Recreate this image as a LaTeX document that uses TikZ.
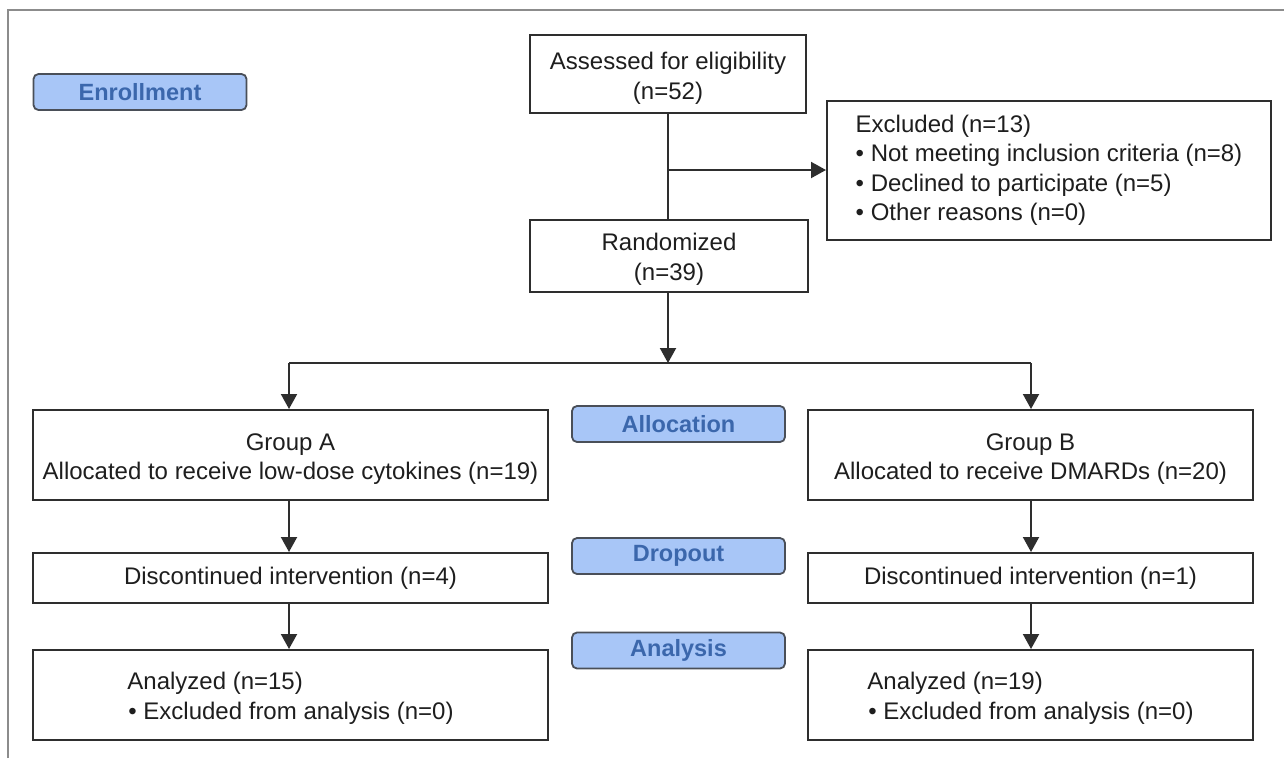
\documentclass[tikz,border=0pt]{standalone}
\usepackage{fontspec}
\setmainfont{Liberation Sans}
\usetikzlibrary{arrows.meta}
\definecolor{inkgray}{HTML}{2E2E2E}
\definecolor{framegray}{HTML}{8C8C8C}
\definecolor{tagfill}{HTML}{A8C6F7}
\definecolor{tagtext}{HTML}{3B67AC}
\definecolor{tagedge}{HTML}{4A4F58}
\definecolor{txt}{HTML}{1E1E1E}
\tikzset{
  flowbox/.style={draw=inkgray, line width=2pt, fill=white, text=txt,
    inner sep=0pt, align=center,
    font=\fontsize{24}{29.5}\selectfont},
  listbox/.style={flowbox, align=left},
  stagetag/.style={draw=tagedge, line width=1.8pt, fill=tagfill,
    rounded corners=5pt, text=tagtext, inner sep=0pt,
    minimum width=213pt, minimum height=36pt,
    font=\fontsize{23.5}{28}\selectfont\bfseries},
  link/.style={draw=inkgray, line width=2pt},
  arr/.style={link, -{Triangle[length=15pt,width=16pt]}}
}
\begin{document}
\begin{tikzpicture}[x=1pt,y=-1pt]
\useasboundingbox (0,0) rectangle (1284,758);
% open outer frame
\draw[framegray, line width=1.5pt] (8,758) -- (8,10) -- (1284,10);

% stage tags
\node[stagetag] (tenroll) at (140,92) {Enrollment};
\node[stagetag] (talloc) at (678.5,424) {Allocation};
\node[stagetag] (tdrop)  at (678.5,556) {Dropout};
\node[stagetag] (tanal)  at (678.5,650.5) {Analysis};

% enrollment
\node[flowbox, minimum width=276pt, minimum height=78pt] (assess) at (668,74)
  {\rule{0pt}{26pt}Assessed for eligibility\\(n=52)};
\node[listbox, minimum width=444pt, minimum height=139pt] (excl) at (1049,170.5)
  {Excluded (n=13)\\
   • Not meeting inclusion criteria (n=8)\\
   • Declined to participate (n=5)\\
   • Other reasons (n=0)};
\node[flowbox, minimum width=278pt, minimum height=72pt] (rand) at (669,256)
  {\rule{0pt}{24pt}Randomized\\(n=39)};

% groups
\node[flowbox, minimum width=515pt, minimum height=90pt] (grpA) at (290.5,455)
  {\rule{0pt}{25pt}Group A\\Allocated to receive low-dose cytokines (n=19)};
\node[flowbox, minimum width=445pt, minimum height=90pt] (grpB) at (1030.5,455)
  {\rule{0pt}{25pt}Group B\\Allocated to receive DMARDs (n=20)};
\node[flowbox, minimum width=515pt, minimum height=50pt] (dropA) at (290.5,578)
  {Discontinued intervention (n=4)};
\node[flowbox, minimum width=445pt, minimum height=50pt] (dropB) at (1030.5,578)
  {Discontinued intervention (n=1)};
\node[listbox, minimum width=515pt, minimum height=90pt] (anaA) at (290.5,695)
  {\rule{0pt}{24pt}Analyzed (n=15)\\\hspace*{1pt}• Excluded from analysis (n=0)};
\node[listbox, minimum width=445pt, minimum height=90pt] (anaB) at (1030.5,695)
  {\rule{0pt}{24pt}Analyzed (n=19)\\\hspace*{1pt}• Excluded from analysis (n=0)};

% connectors
\coordinate (split) at (668,170);
\coordinate (fork) at (668,363);
\coordinate (forkA) at (289,363);
\coordinate (forkB) at (1031,363);
\draw[link] (assess.south -| split) -- (rand.north -| split);
\draw[arr] (split) -- (excl.west |- split);
\draw[arr] (rand.south -| fork) -- (fork);
\draw[link] (forkA) -- (forkB);
\draw[arr] (forkA) -- (grpA.north -| forkA);
\draw[arr] (forkB) -- (grpB.north -| forkB);
\draw[arr] (grpA.south -| forkA) -- (dropA.north -| forkA);
\draw[arr] (grpB.south -| forkB) -- (dropB.north -| forkB);
\draw[arr] (dropA.south -| forkA) -- (anaA.north -| forkA);
\draw[arr] (dropB.south -| forkB) -- (anaB.north -| forkB);
\end{tikzpicture}
\end{document}
